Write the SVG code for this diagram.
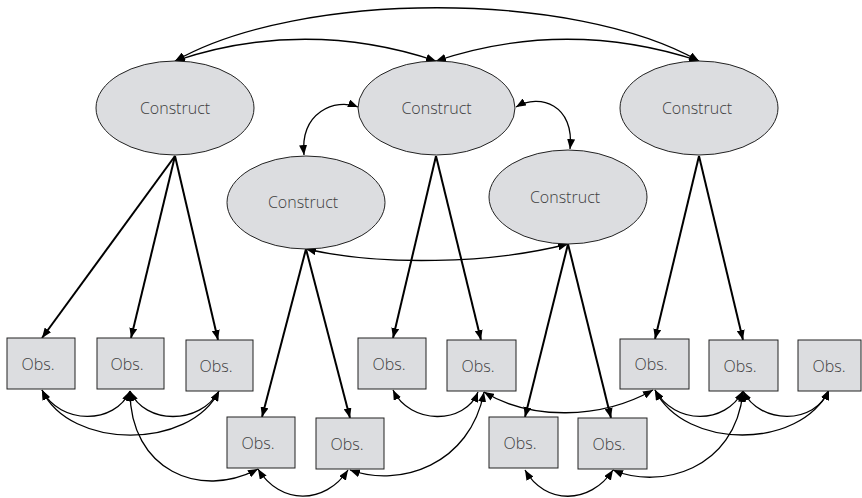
<svg xmlns="http://www.w3.org/2000/svg" width="862" height="498" viewBox="0 0 862 498">
<defs>
<marker id="ah" viewBox="0 0 10 8" refX="10" refY="4" markerWidth="10" markerHeight="8" markerUnits="userSpaceOnUse" orient="auto-start-reverse">
<path d="M0,0 L10,4 L0,8 z" fill="#000"/>
</marker>
<style>
.c{fill:#dcdde0;stroke:#222;stroke-width:1}
.t{font-family:"Open Sans","Liberation Sans",sans-serif;font-size:16px;font-weight:300;fill:#404040;text-anchor:middle}
.l{fill:none;stroke:#000;stroke-width:2;marker-end:url(#ah)}
.a{fill:none;stroke:#000;stroke-width:1.3;marker-start:url(#ah);marker-end:url(#ah)}
</style>
</defs>
<rect width="862" height="498" fill="#fff"/>
<g id="connectors">
<path class="l" d="M175,156 L42,338"/>
<path class="l" d="M175,156 L131,338"/>
<path class="l" d="M175,156 L218,340"/>
<path class="l" d="M306,249 L262,417"/>
<path class="l" d="M306,249 L350,418"/>
<path class="l" d="M436,156 L393,338"/>
<path class="l" d="M436,156 L481,340"/>
<path class="l" d="M568,244 L525,417"/>
<path class="l" d="M568,244 L611,418"/>
<path class="l" d="M699,156 L655,339"/>
<path class="l" d="M699,156 L743,340"/>
<path class="a" d="M175,61 C300,-10 574,-10 699,61"/>
<path class="a" d="M175,61 C260,32 350,32 436,61"/>
<path class="a" d="M436,61 C522,32 612,32 699,61"/>
<path class="a" d="M358,107 C335,98 300,112 304,155"/>
<path class="a" d="M516,107 C540,93 575,105 570,149"/>
<path class="a" d="M306,249 C380,266 490,264 568,244"/>
<path class="a" d="M42,390 C60,425 115,425 130,391"/>
<path class="a" d="M130,391 C145,425 200,425 219,391"/>
<path class="a" d="M42,390 C70,450 190,450 219,391"/>
<path class="a" d="M130,391 C130,470 200,500 258,469"/>
<path class="a" d="M258,469 C280,505 325,505 348,470"/>
<path class="a" d="M350,470 C400,488 470,465 484,392"/>
<path class="a" d="M393,390 C410,425 465,425 478,392"/>
<path class="a" d="M484,392 C530,420 600,420 653,390"/>
<path class="a" d="M525,470 C545,505 590,505 613,470"/>
<path class="a" d="M613,470 C660,490 735,470 743,392"/>
<path class="a" d="M655,390 C675,425 725,425 743,391"/>
<path class="a" d="M743,391 C760,425 815,425 829,390"/>
<path class="a" d="M655,390 C685,450 800,450 829,390"/>
</g>
<g id="e1"><ellipse class="c" cx="175" cy="108" rx="79" ry="47"/><text class="t" x="175" y="114">Construct</text></g>
<g id="e2"><ellipse class="c" cx="436.5" cy="108" rx="78.5" ry="47"/><text class="t" x="436.5" y="114">Construct</text></g>
<g id="e3"><ellipse class="c" cx="306" cy="202.5" rx="79" ry="46.5"/><text class="t" x="303" y="208">Construct</text></g>
<g id="e4"><ellipse class="c" cx="699" cy="108" rx="79" ry="47"/><text class="t" x="697" y="114">Construct</text></g>
<g id="e5"><ellipse class="c" cx="568" cy="197" rx="79" ry="47"/><text class="t" x="565" y="203">Construct</text></g>
<g id="b1"><rect class="c" x="7" y="338" width="68" height="51"/><text class="t" x="38" y="370">Obs.</text></g>
<g id="b2"><rect class="c" x="97" y="338" width="67" height="51"/><text class="t" x="127" y="370">Obs.</text></g>
<g id="b3"><rect class="c" x="186" y="340" width="67" height="51"/><text class="t" x="216" y="372">Obs.</text></g>
<g id="b4"><rect class="c" x="227" y="417" width="68" height="51"/><text class="t" x="258" y="449">Obs.</text></g>
<g id="b5"><rect class="c" x="316" y="418" width="68" height="51"/><text class="t" x="347" y="450">Obs.</text></g>
<g id="b6"><rect class="c" x="358" y="338" width="68" height="51"/><text class="t" x="389" y="370">Obs.</text></g>
<g id="b7"><rect class="c" x="447" y="340" width="69" height="51"/><text class="t" x="478" y="372">Obs.</text></g>
<g id="b8"><rect class="c" x="489" y="417" width="69" height="51"/><text class="t" x="520" y="449">Obs.</text></g>
<g id="b9"><rect class="c" x="578" y="418" width="69" height="51"/><text class="t" x="609" y="450">Obs.</text></g>
<g id="b10"><rect class="c" x="620" y="339" width="69" height="50"/><text class="t" x="651" y="370">Obs.</text></g>
<g id="b11"><rect class="c" x="709" y="340" width="69" height="51"/><text class="t" x="740" y="372">Obs.</text></g>
<g id="b12"><rect class="c" x="798" y="340" width="63" height="51"/><text class="t" x="829" y="372">Obs.</text></g>
</svg>
